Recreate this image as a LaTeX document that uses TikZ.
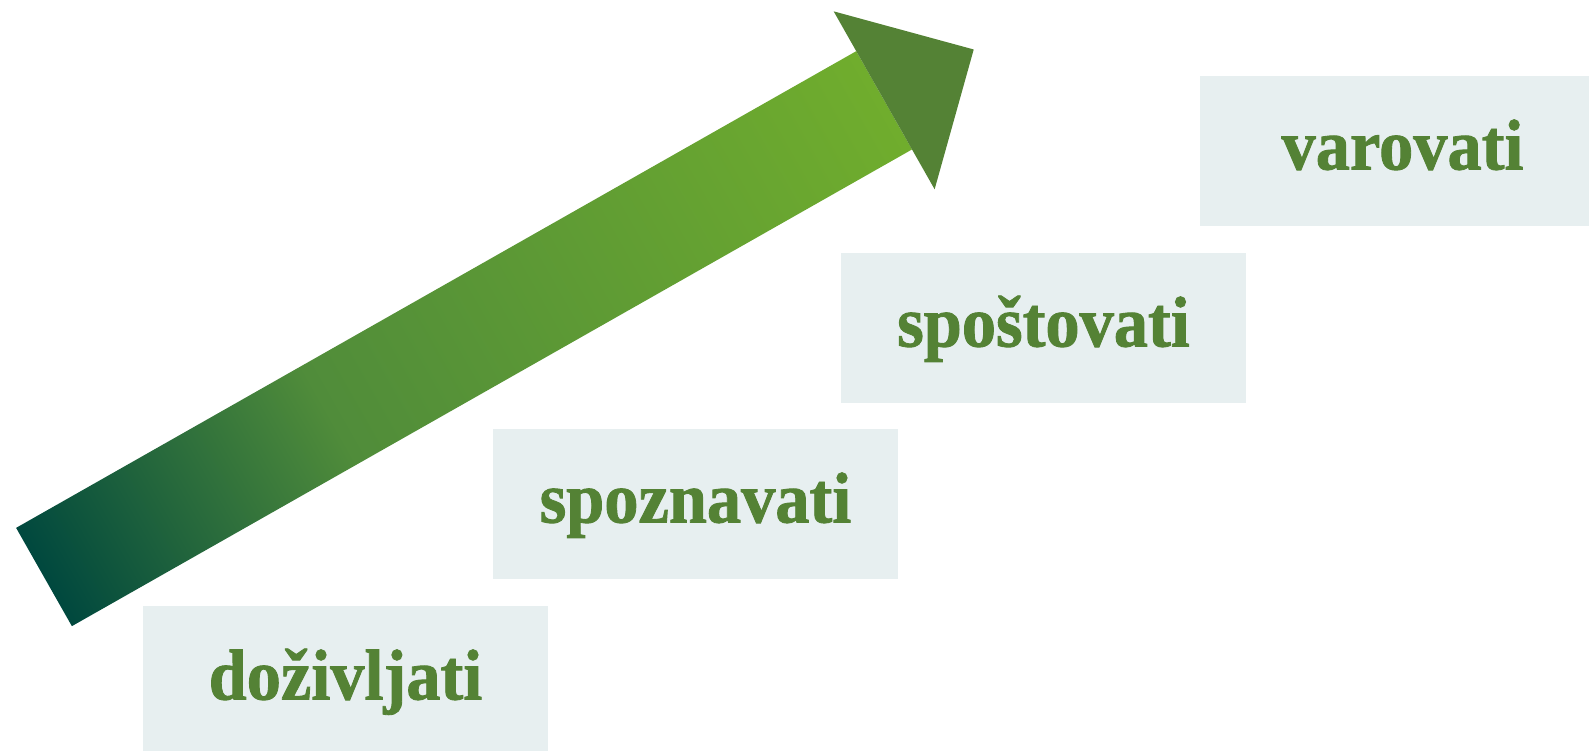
\documentclass[tikz,border=0pt]{standalone}
\usepackage{fontspec}
\newfontfamily\wordfont{Liberation Serif}[FakeStretch=0.95,FakeBold=1.2]
\definecolor{leafgreen}{RGB}{84,130,53}
\definecolor{boxgray}{RGB}{231,239,240}
\definecolor{arrowdark}{RGB}{0,72,62}
\definecolor{arrowmid}{RGB}{80,140,58}
\definecolor{arrowlight}{RGB}{112,173,45}
% dark teal at the tail, light green towards the head
\pgfdeclarehorizontalshading{arrowfill}{100bp}{color(0bp)=(arrowdark); color(25bp)=(arrowdark); color(42bp)=(arrowmid); color(75bp)=(arrowlight); color(100bp)=(arrowlight)}

\begin{document}
\begin{tikzpicture}[x=1pt,y=-1pt]
    \tikzstyle{levelbox}=[fill=boxgray, minimum width=405pt, minimum height=150pt, inner sep=0pt, text height=50pt, text depth=13pt, text=leafgreen, font=\wordfont\bfseries\fontsize{72pt}{72pt}\selectfont]
    \useasboundingbox (0,0) rectangle (1589,750);
    \node[levelbox] (l1) at (345.5,681) {doživljati};
    \node[levelbox] (l2) at (695.5,504) {spoznavati};
    \node[levelbox] (l3) at (1043.5,328) {spoštovati};
    \node[levelbox] (l4) at (1402.5,151) {varovati};
    % shaft and head, drawn along the arrow's own axis
    \begin{scope}[transform canvas={shift={(44,577)},rotate=29.57}]
      \shade[shading=arrowfill] (0,-56.5) rectangle (966,56.5);
      \fill[leafgreen] (966,-102.3) -- (1069,0) -- (966,102.3) -- cycle;
    \end{scope}
  \end{tikzpicture}
\end{document}
